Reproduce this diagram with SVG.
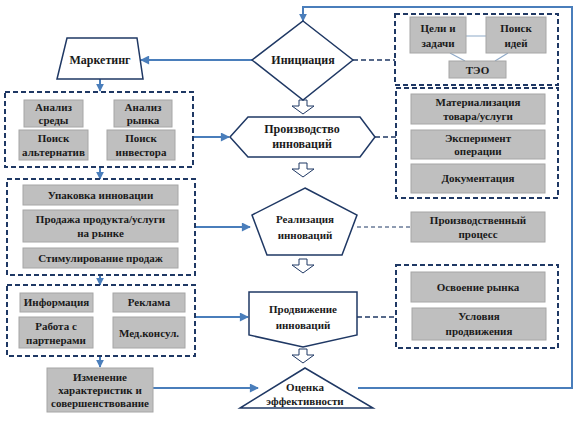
<svg xmlns="http://www.w3.org/2000/svg" width="576" height="422" viewBox="0 0 576 422">
<defs>
<marker id="ah" viewBox="0 0 10 10" refX="9" refY="5" markerWidth="5" markerHeight="4.5" orient="auto" markerUnits="strokeWidth">
<path d="M0,0 L10,5 L0,10 Z" fill="#4A7EBB"/>
</marker>
<marker id="ahs" viewBox="0 0 10 10" refX="9" refY="5" markerWidth="4" markerHeight="4" orient="auto" markerUnits="strokeWidth">
<path d="M0,0 L10,5 L0,10 Z" fill="#4A7EBB"/>
</marker>
<path id="blk" d="M-4,0 H4 V6 H11 L0,14 L-11,6 H-4 Z"/>
</defs>
<style>
.t{font-family:"Liberation Serif","DejaVu Serif","Times New Roman",serif;font-weight:bold;font-size:11px;fill:#1a1a1a;text-anchor:middle}
.tm{font-family:"Liberation Serif","DejaVu Serif","Times New Roman",serif;font-weight:bold;font-size:12px;fill:#1a1a1a;text-anchor:middle}
.g{fill:#BFBFBF;stroke:#A6A6A6;stroke-width:1}
.db{fill:none;stroke:#1F3864;stroke-width:2;stroke-dasharray:5 3}
.sh{fill:#fff;stroke:#1F3864;stroke-width:1.5}
.bl{fill:none;stroke:#4A7EBB;stroke-width:2}
.dl{fill:none;stroke:#1F3864;stroke-width:1.5;stroke-dasharray:5 3}
.dt{fill:none;stroke:#1F3864;stroke-width:1;stroke-dasharray:4 3}
.ol{fill:#fff;stroke:#1F3864;stroke-width:1}
.cl{fill:none;stroke:#8EA9C8;stroke-width:1.2}
</style>
<rect width="576" height="422" fill="#fff"/>

<g id="connectors">
<path class="bl" d="M252,60 H141" marker-end="url(#ah)"/>
<path class="bl" d="M100,79 V91" marker-end="url(#ahs)"/>
<path class="bl" d="M193,137 H229" marker-end="url(#ah)"/>
<path class="bl" d="M100,167 V179" marker-end="url(#ahs)"/>
<path class="bl" d="M195,227 H250" marker-end="url(#ah)"/>
<path class="bl" d="M100,275 V285" marker-end="url(#ahs)"/>
<path class="bl" d="M195,317 H248" marker-end="url(#ah)"/>
<path class="bl" d="M100,356 V367" marker-end="url(#ahs)"/>
<path class="bl" d="M153,388 H258" marker-end="url(#ah)"/>
<path class="bl" d="M358,388 H572 V7 H303 V21" marker-end="url(#ahs)"/>
<path class="dl" d="M353,60 H395"/>
<path class="dl" d="M375,137 H396"/>
<path class="dt" d="M357,227 H411"/>
<path class="dl" d="M357,317 H396"/>
<use href="#blk" class="ol" x="303" y="100"/>
<use href="#blk" class="ol" x="303" y="163"/>
<use href="#blk" class="ol" x="303" y="259"/>
<use href="#blk" class="ol" x="303" y="349"/>
</g>

<g id="marketing">
<path class="sh" d="M67,38 H137 L143,79 H57 Z"/>
<text class="tm" x="100" y="64">Маркетинг</text>
</g>

<g id="initiation">
<path class="sh" d="M303,21 L353,60 L303,100 L252,60 Z"/>
<text class="tm" x="303" y="64">Инициация</text>
</g>

<g id="production">
<path class="sh" d="M230,137 L248,117 H360 L375,137 L360,157 H248 Z"/>
<text class="tm" x="302" y="133">Производство</text>
<text class="tm" x="302" y="148">инноваций</text>
</g>

<g id="realization">
<path class="sh" d="M305,188 L357,215 L342,255 H267 L252,215 Z"/>
<text class="t" x="305" y="223">Реализация</text>
<text class="t" x="305" y="239">инноваций</text>
</g>

<g id="promotion">
<path class="sh" d="M249,292 H357 V335 L303,347 L249,335 Z"/>
<text class="t" x="303" y="313">Продвижение</text>
<text class="t" x="303" y="329">инноваций</text>
</g>

<g id="evaluation">
<path class="sh" d="M305,368 L373,408 H240 Z"/>
<text class="t" x="305" y="391">Оценка</text>
<text class="t" x="305" y="405">эффективности</text>
</g>

<g id="marketing-group">
<rect class="db" x="5" y="92" width="188" height="75"/>
<rect class="g" x="24" y="100" width="59" height="27"/>
<text class="t" x="53.5" y="111">Анализ</text>
<text class="t" x="53.5" y="124">среды</text>
<rect class="g" x="114" y="100" width="58" height="27"/>
<text class="t" x="143" y="111">Анализ</text>
<text class="t" x="143" y="124">рынка</text>
<rect class="g" x="19" y="130" width="69" height="30"/>
<text class="t" x="53.5" y="142">Поиск</text>
<text class="t" x="53.5" y="156">альтернатив</text>
<rect class="g" x="107" y="130" width="68" height="30"/>
<text class="t" x="141" y="142">Поиск</text>
<text class="t" x="141" y="156">инвестора</text>
</g>

<g id="sales-group">
<rect class="db" x="7" y="179" width="188" height="96"/>
<rect class="g" x="23" y="185" width="155" height="20"/>
<text class="t" x="100.5" y="199">Упаковка инновации</text>
<rect class="g" x="23" y="210" width="155" height="32"/>
<text class="t" x="100.5" y="223">Продажа продукта/услуги</text>
<text class="t" x="100.5" y="237">на рынке</text>
<rect class="g" x="23" y="248" width="155" height="20"/>
<text class="t" x="100.5" y="262">Стимулирование продаж</text>
</g>

<g id="promo-group">
<rect class="db" x="7" y="285" width="188" height="71"/>
<rect class="g" x="20" y="293" width="73" height="19"/>
<text class="t" x="56.5" y="306">Информация</text>
<rect class="g" x="113" y="293" width="72" height="19"/>
<text class="t" x="149" y="306">Реклама</text>
<rect class="g" x="19" y="317" width="74" height="31"/>
<text class="t" x="56" y="330">Работа с</text>
<text class="t" x="56" y="344">партнерами</text>
<rect class="g" x="113" y="317" width="72" height="31"/>
<text class="t" x="149" y="337">Мед.консул.</text>
</g>

<g id="improvement">
<rect class="g" x="47" y="368" width="106" height="44"/>
<text class="t" x="100" y="381">Изменение</text>
<text class="t" x="100" y="394">характеристик и</text>
<text class="t" x="100" y="407">совершенствование</text>
</g>

<g id="initiation-group">
<rect class="db" x="395" y="14" width="163" height="71"/>
<path class="cl" d="M466,36 H486 M450,53 L465,61 M508,53 L495,61"/>
<rect class="g" x="410" y="17" width="56" height="36"/>
<text class="t" x="438" y="32">Цели и</text>
<text class="t" x="438" y="47">задачи</text>
<rect class="g" x="486" y="17" width="60" height="36"/>
<text class="t" x="516" y="32">Поиск</text>
<text class="t" x="516" y="47">идей</text>
<rect class="g" x="449" y="61" width="57" height="17"/>
<text class="t" x="477.5" y="74">ТЭО</text>
</g>

<g id="production-group">
<rect class="db" x="396" y="88" width="162" height="110"/>
<rect class="g" x="411" y="94" width="134" height="30"/>
<text class="t" x="478" y="106">Материализация</text>
<text class="t" x="478" y="120">товара/услуги</text>
<rect class="g" x="411" y="130" width="134" height="29"/>
<text class="t" x="478" y="142">Эксперимент</text>
<text class="t" x="478" y="155">операции</text>
<rect class="g" x="411" y="164" width="134" height="29"/>
<text class="t" x="478" y="182">Документация</text>
</g>

<g id="process">
<rect class="g" x="411" y="212" width="134" height="30"/>
<text class="t" x="478" y="224">Производственный</text>
<text class="t" x="478" y="238">процесс</text>
</g>

<g id="market-group">
<rect class="db" x="396" y="265" width="162" height="83"/>
<rect class="g" x="411" y="272" width="134" height="30"/>
<text class="t" x="478" y="291">Освоение рынка</text>
<rect class="g" x="412" y="308" width="134" height="32"/>
<text class="t" x="479" y="320">Условия</text>
<text class="t" x="479" y="335">продвижения</text>
</g>
</svg>
